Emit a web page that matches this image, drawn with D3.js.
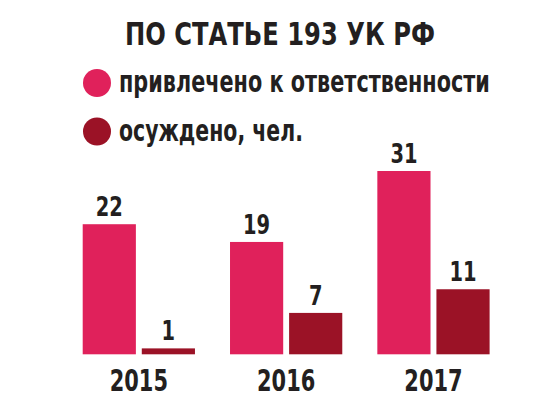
<!DOCTYPE html>
<html>
<head>
<meta charset="utf-8">
<script src="https://cdn.jsdelivr.net/npm/d3@7"></script>
<style>
  body { margin: 0; background: #fff; }
  svg text { font-family: "Liberation Sans Narrow", "Arial Narrow", "DejaVu Sans Condensed", sans-serif; font-weight: bold; fill: #231f20; }
</style>
</head>
<body>
<svg id="chart" width="550" height="412"></svg>
<script>
// data
const years = ["2015", "2016", "2017"];
const seriesNames = ["привлечено к ответственности", "осуждено, чел."];
const attracted = [22, 19, 31];
const convicted = [1, 7, 11];
const titleText = "ПО СТАТЬЕ 193 УК РФ";
const colors = ["#e0215b", "#9b1226"];

const svg = d3.select("#chart");
let baseY = 354.3;
let topY = 171;

// squeeze text horizontally, the original uses a condensed face
function condense(sel, k) {
    sel.each(function () {
        let w = this.getComputedTextLength();
        d3.select(this).attr("textLength", w * k).attr("lengthAdjust", "spacingAndGlyphs");
    });
}
// same idea but with a transform, fitted to a given width
function fitWidth(sel, x0, y0, target) {
    sel.each(function (d, i) {
        let w = this.getComputedTextLength();
        let t = typeof target === "function" ? target(d, i) : target;
        let ty = typeof y0 === "function" ? y0(d, i) : y0;
        d3.select(this).attr("transform", "translate(" + x0 + "," + ty + ") scale(" + (t / w) + ",1)");
    });
}

// scales
let x = d3.scaleBand().domain(years).range([82.7, 489.6]).paddingInner(0.238).paddingOuter(0);
let xs = d3.scaleBand().domain([0, 1]).range([0, x.bandwidth()]).paddingInner(0.1);
let y = d3.scaleLinear().domain([0, 31]).range([baseY, topY]);

// title
let title = svg.append("text")
    .attr("font-size", "32px")
    .text(titleText);
fitWidth(title, 125, 45, 310);

// legend
let legendY = [83, 131.5];
let legendW = [371, 184];
let legend = svg.selectAll(".legend").data(seriesNames).enter().append("g");
legend.append("circle")
    .attr("cx", 97)
    .attr("cy", (d, i) => legendY[i])
    .attr("r", 14)
    .attr("fill", (d, i) => colors[i]);
let legendText = legend.append("text")
    .attr("font-size", "31px")
    .text(d => d);
fitWidth(legendText, 119, (d, i) => legendY[i] + 9, (d, i) => legendW[i]);

// bars
let rows = [];
years.forEach((yr, i) => {
    rows.push({ year: yr, s: 0, v: attracted[i] });
    rows.push({ year: yr, s: 1, v: convicted[i] });
});

let bars = svg.selectAll(".bar").data(rows).enter().append("g");
bars.append("rect")
    .attr("class", "bar")
    .attr("x", d => x(d.year) + xs(d.s))
    .attr("y", d => y(d.v))
    .attr("width", xs.bandwidth())
    .attr("height", d => baseY - y(d.v))
    .attr("fill", d => colors[d.s]);

let vals = bars.append("text")
    .attr("x", d => x(d.year) + xs(d.s) + xs.bandwidth() / 2)
    .attr("y", d => y(d.v) - 8)
    .attr("text-anchor", "middle")
    .attr("font-size", "27px")
    .text(d => d.v);
condense(vals, 0.8);

// year labels
let yearLabels = svg.append("g")
    .attr("transform", "translate(0," + baseY + ")")
    .call(d3.axisBottom(x).tickSize(0).tickPadding(0))
    .call(g => g.select(".domain").remove())
    .selectAll("text")
    .attr("dy", null)
    .attr("y", 36.4)
    .attr("font-size", "31px")
    .attr("font-family", null);
condense(yearLabels, 0.75);
</script>
</body>
</html>
